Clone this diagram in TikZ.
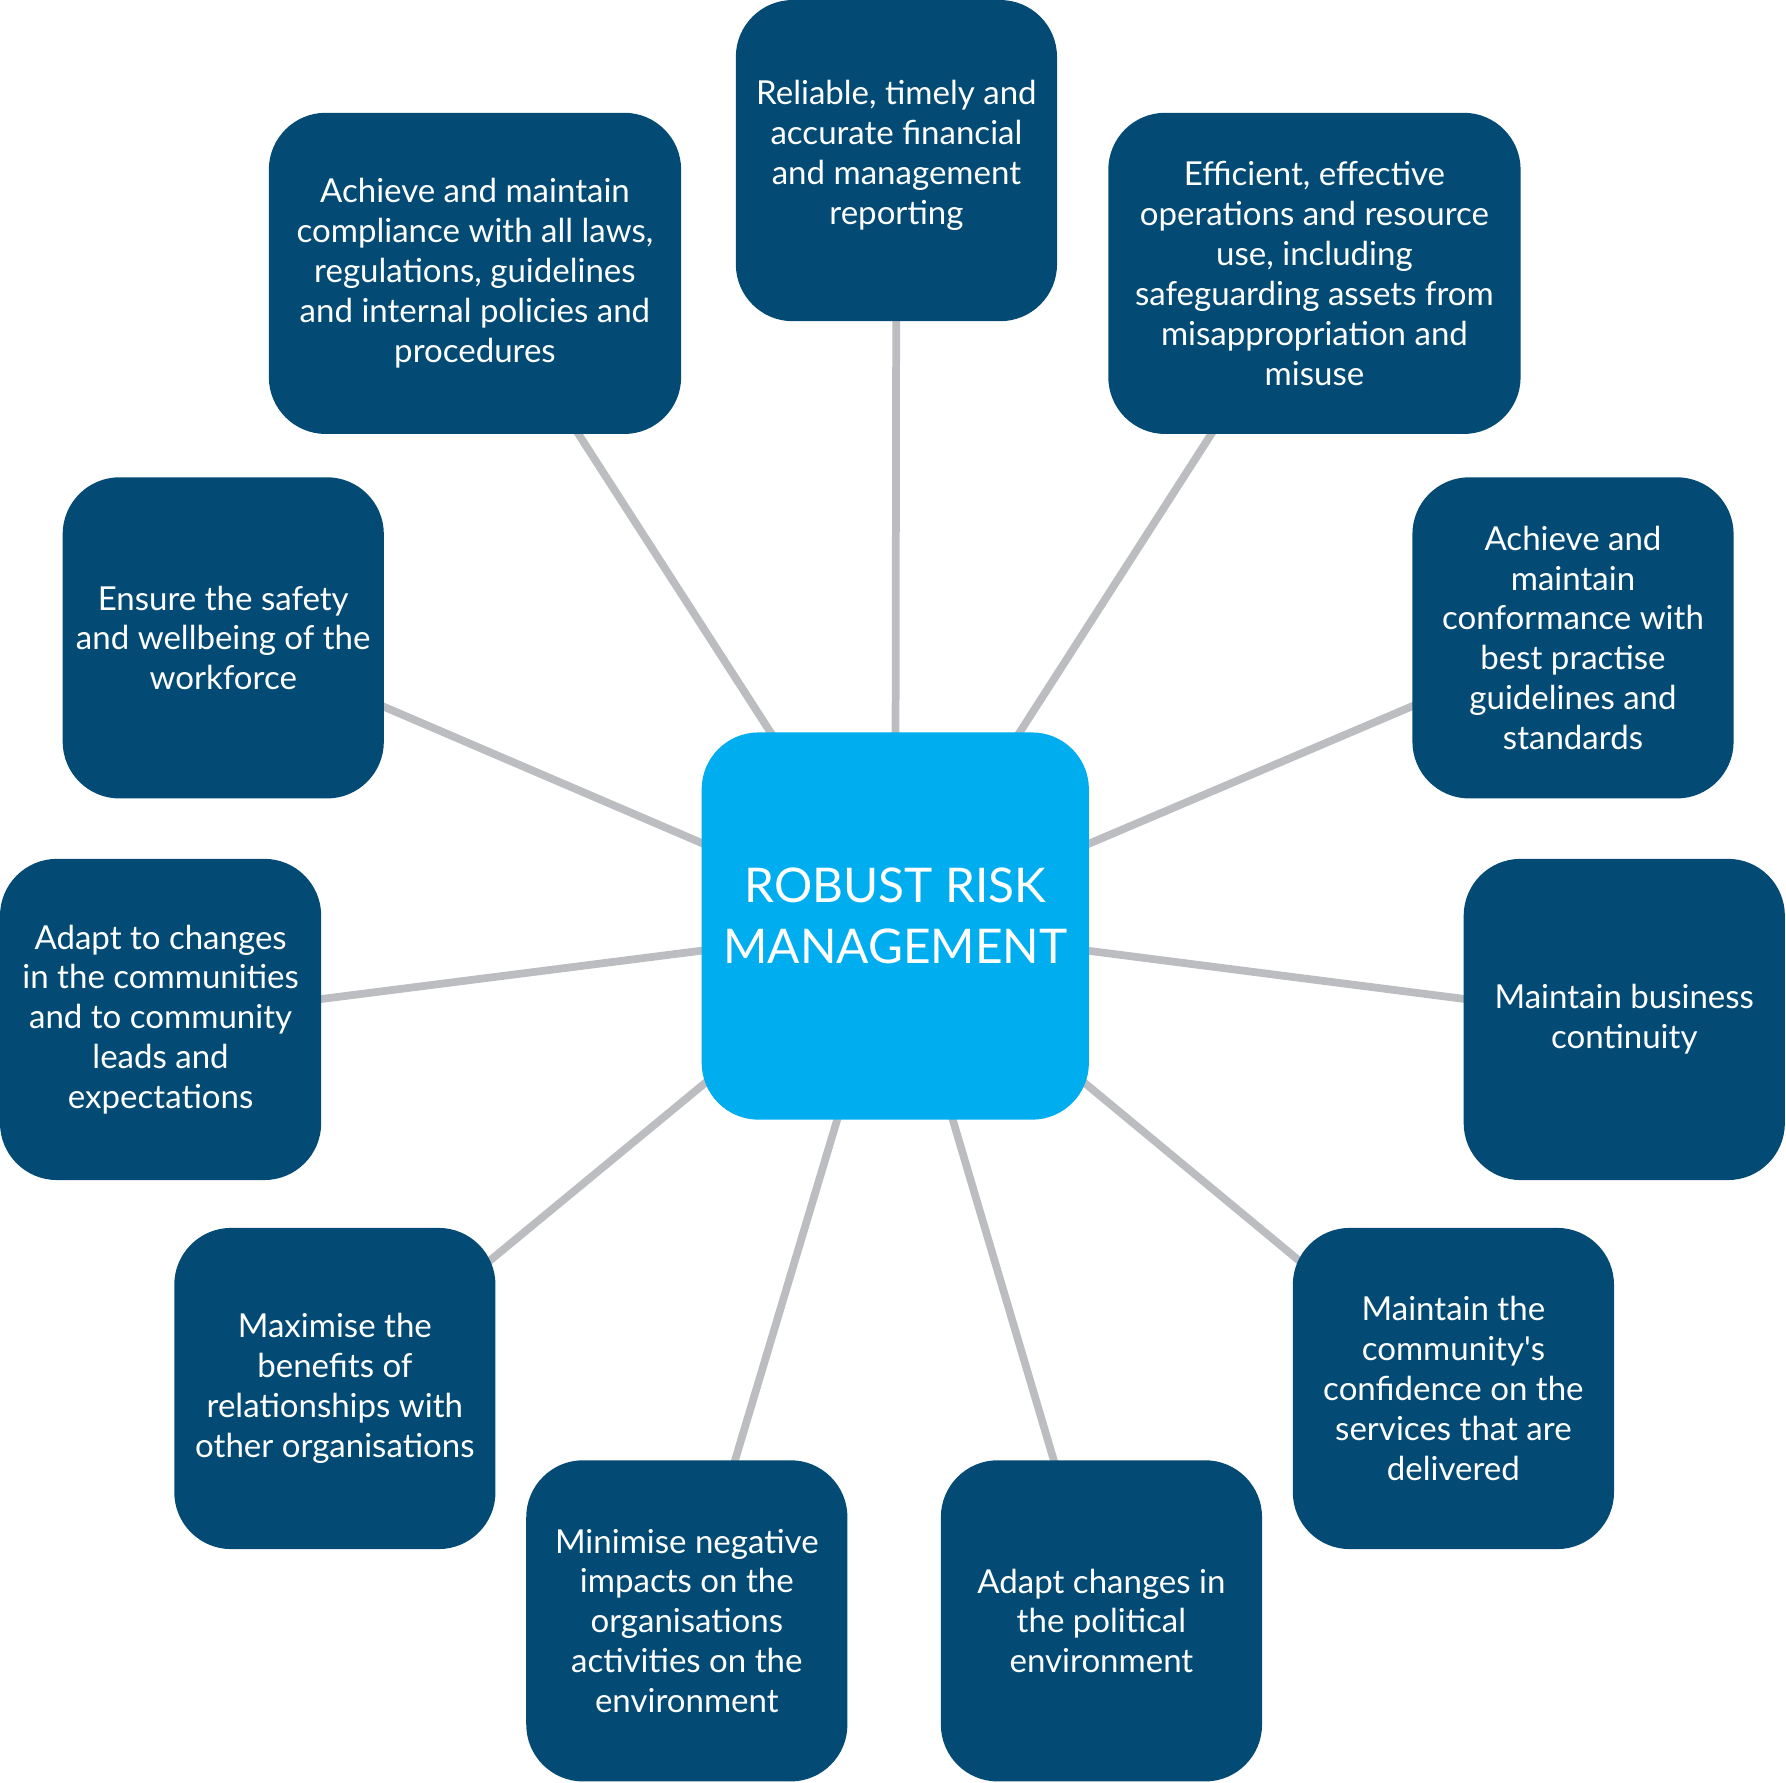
\documentclass[tikz,border=0pt]{standalone}
\usepackage{fontspec}
\setmainfont{Lato}
\usetikzlibrary{backgrounds}
\definecolor{darkbox}{HTML}{034B75}
\definecolor{skybox}{HTML}{00AEEF}
\definecolor{spoke}{HTML}{BCBDC0}
\tikzset{
  aim/.style={draw=none,fill=darkbox,rounded corners=25pt,minimum width=141pt,minimum height=141pt,
    text=white,align=center,font=\fontsize{14.5}{17.5}\selectfont},
  wideaim/.style={aim,minimum width=181pt},
  core/.style={draw=none,fill=skybox,rounded corners=25pt,minimum width=170pt,minimum height=170pt,
    text=white,align=center,font=\fontsize{21}{26.5}\selectfont},
  link/.style={draw=spoke,line width=3.4pt}
}
\begin{document}
\begin{tikzpicture}[x=0.5pt,y=-0.5pt]
\useasboundingbox (0,0) rectangle (1568,1565);
\node[core] (risk) at (786,813) {ROBUST RISK\\MANAGEMENT\\[-17.5pt]};
\node[aim] (report) at (787,141) {Reliable, timely and\\accurate financial\\and management\\reporting\\[-10pt]};
\node[wideaim] (comply) at (417,240) {Achieve and maintain\\compliance with all laws,\\regulations, guidelines\\and internal policies and\\procedures};
\node[wideaim] (effic) at (1154,240) {Efficient, effective\\operations and resource\\use, including\\safeguarding assets from\\misappropriation and\\misuse};
\node[aim] (safety) at (196,560) {Ensure the safety\\and wellbeing of the\\workforce};
\node[aim] (conform) at (1381,560) {Achieve and\\maintain\\conformance with\\best practise\\guidelines and\\standards};
\node[aim] (commun) at (141,895) {Adapt to changes\\in the communities\\and to community\\leads and\\expectations};
\node[aim] (contin) at (1426,895) {Maintain business\\continuity};
\node[aim] (benefit) at (294,1219) {Maximise the\\benefits of\\relationships with\\other organisations};
\node[aim] (confid) at (1276,1219) {Maintain the\\community\textquotesingle s\\confidence on the\\services that are\\delivered};
\node[aim] (impact) at (603,1423) {Minimise negative\\impacts on the\\organisations\\activities on the\\environment};
\node[aim] (politic) at (967,1423) {Adapt changes in\\the political\\environment};
\begin{scope}[on background layer]
\foreach \goal in {report,comply,effic,safety,conform,commun,contin,benefit,confid,impact,politic}
  \draw[link] (risk.center) -- (\goal.center);
\end{scope}
\end{tikzpicture}
\end{document}
